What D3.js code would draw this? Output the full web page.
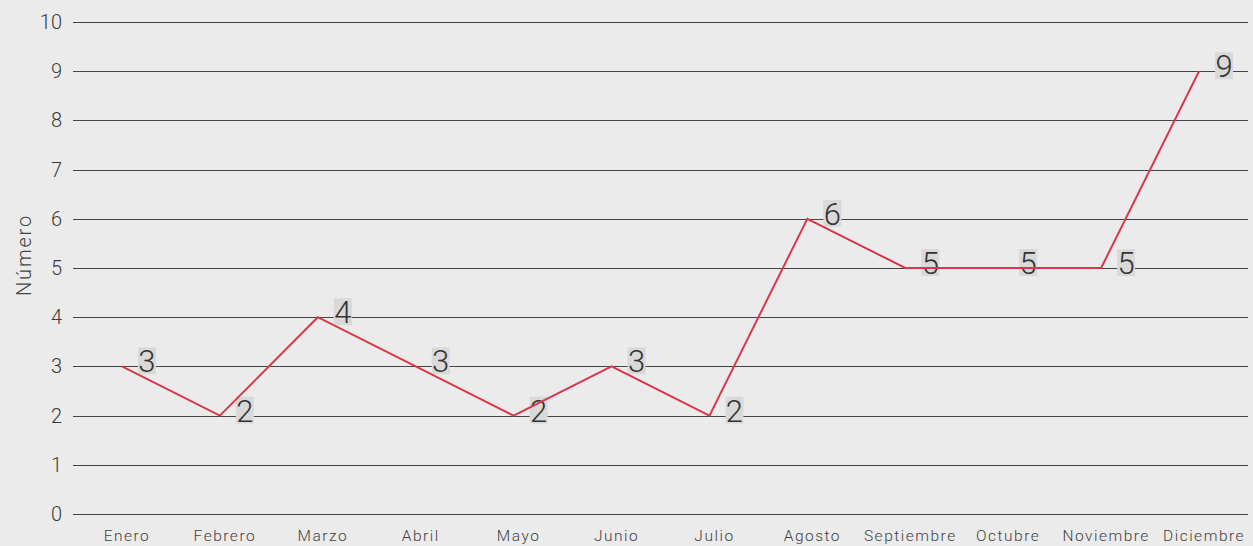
<!DOCTYPE html>
<html>
<head>
<meta charset="utf-8">
<script src="https://cdn.jsdelivr.net/npm/d3@7"></script>
<style>
  html, body { margin: 0; padding: 0; background: #ebebeb; }
  svg { display: block; }
  text { font-family: Roboto, "Noto Sans", sans-serif; }
</style>
</head>
<body>
<svg id="chart" width="1253" height="546"></svg>
<script>
// Monthly counts
const months = ["Enero", "Febrero", "Marzo", "Abril", "Mayo", "Junio", "Julio",
                "Agosto", "Septiembre", "Octubre", "Noviembre", "Diciembre"];
const counts = [3, 2, 4, 3, 2, 3, 2, 6, 5, 5, 5, 9];
const yTicks = [0, 1, 2, 3, 4, 5, 6, 7, 8, 9, 10];
const yTitle = "Número";

const width = 1253, height = 546;
const margin = { top: 22, right: 5, bottom: 32, left: 73 };

const svg = d3.select("#chart");

const x = d3.scaleBand()
  .domain(months)
  .range([margin.left, width - margin.right]);

const y = d3.scaleLinear()
  .domain([0, 10])
  .range([height - margin.bottom, margin.top]);

// Horizontal grid lines
svg.append("g")
  .selectAll("line")
  .data(yTicks)
  .join("line")
  .attr("x1", margin.left)
  .attr("x2", width - margin.right)
  .attr("y1", d => Math.round(y(d)) + 0.5)
  .attr("y2", d => Math.round(y(d)) + 0.5)
  .attr("stroke", "#444")
  .attr("stroke-width", 1);

// Y axis tick labels
const yAxis = d3.axisLeft(y).tickValues(yTicks).tickSize(0).tickPadding(11);
svg.append("g")
  .attr("transform", `translate(${margin.left},0)`)
  .call(yAxis)
  .call(g => g.select(".domain").remove())
  .call(g => g.selectAll("text")
    .attr("font-family", "Roboto, sans-serif")
    .attr("font-size", 20)
    .attr("font-weight", 300)
    .attr("fill", "#3a3a3a"));

// X axis labels
const xAxis = d3.axisBottom(x).tickSize(0).tickPadding(16);
svg.append("g")
  .attr("transform", `translate(0,${height - margin.bottom})`)
  .call(xAxis)
  .call(g => g.select(".domain").remove())
  .call(g => g.selectAll("text")
    .attr("font-family", "Roboto, sans-serif")
    .attr("font-size", 15.5)
    .attr("font-weight", 300)
    .attr("letter-spacing", "1.5px")
    .attr("dx", 5)
    .attr("fill", "#3f3f3f"));

// Y axis title
svg.append("text")
  .attr("transform", `translate(31,255) rotate(-90)`)
  .attr("text-anchor", "middle")
  .attr("font-size", 20)
  .attr("font-weight", 300)
  .attr("letter-spacing", "1.8px")
  .attr("fill", "#444")
  .text(yTitle);

const cx = d => x(d.m) + x.bandwidth() / 2;
const data = months.map((m, i) => ({ m, v: counts[i] }));

// Value label backgrounds
const labels = svg.append("g")
  .selectAll("g")
  .data(data)
  .join("g")
  .attr("transform", d => `translate(${cx(d) + 16},${y(d.v)})`);

labels.append("rect")
  .attr("x", 0)
  .attr("y", -19)
  .attr("width", 18)
  .attr("height", 27)
  .attr("fill", "#d9d9d9");

// Line
svg.append("path")
  .datum(data)
  .attr("fill", "none")
  .attr("stroke", "#d9374a")
  .attr("stroke-width", 2)
  .attr("d", d3.line().x(cx).y(d => y(d.v)));

// Value label text
labels.append("text")
  .attr("x", 9)
  .attr("y", 6)
  .attr("text-anchor", "middle")
  .attr("font-size", 31)
  .attr("font-weight", 300)
  .attr("fill", "#333")
  .text(d => d.v);
</script>
</body>
</html>
